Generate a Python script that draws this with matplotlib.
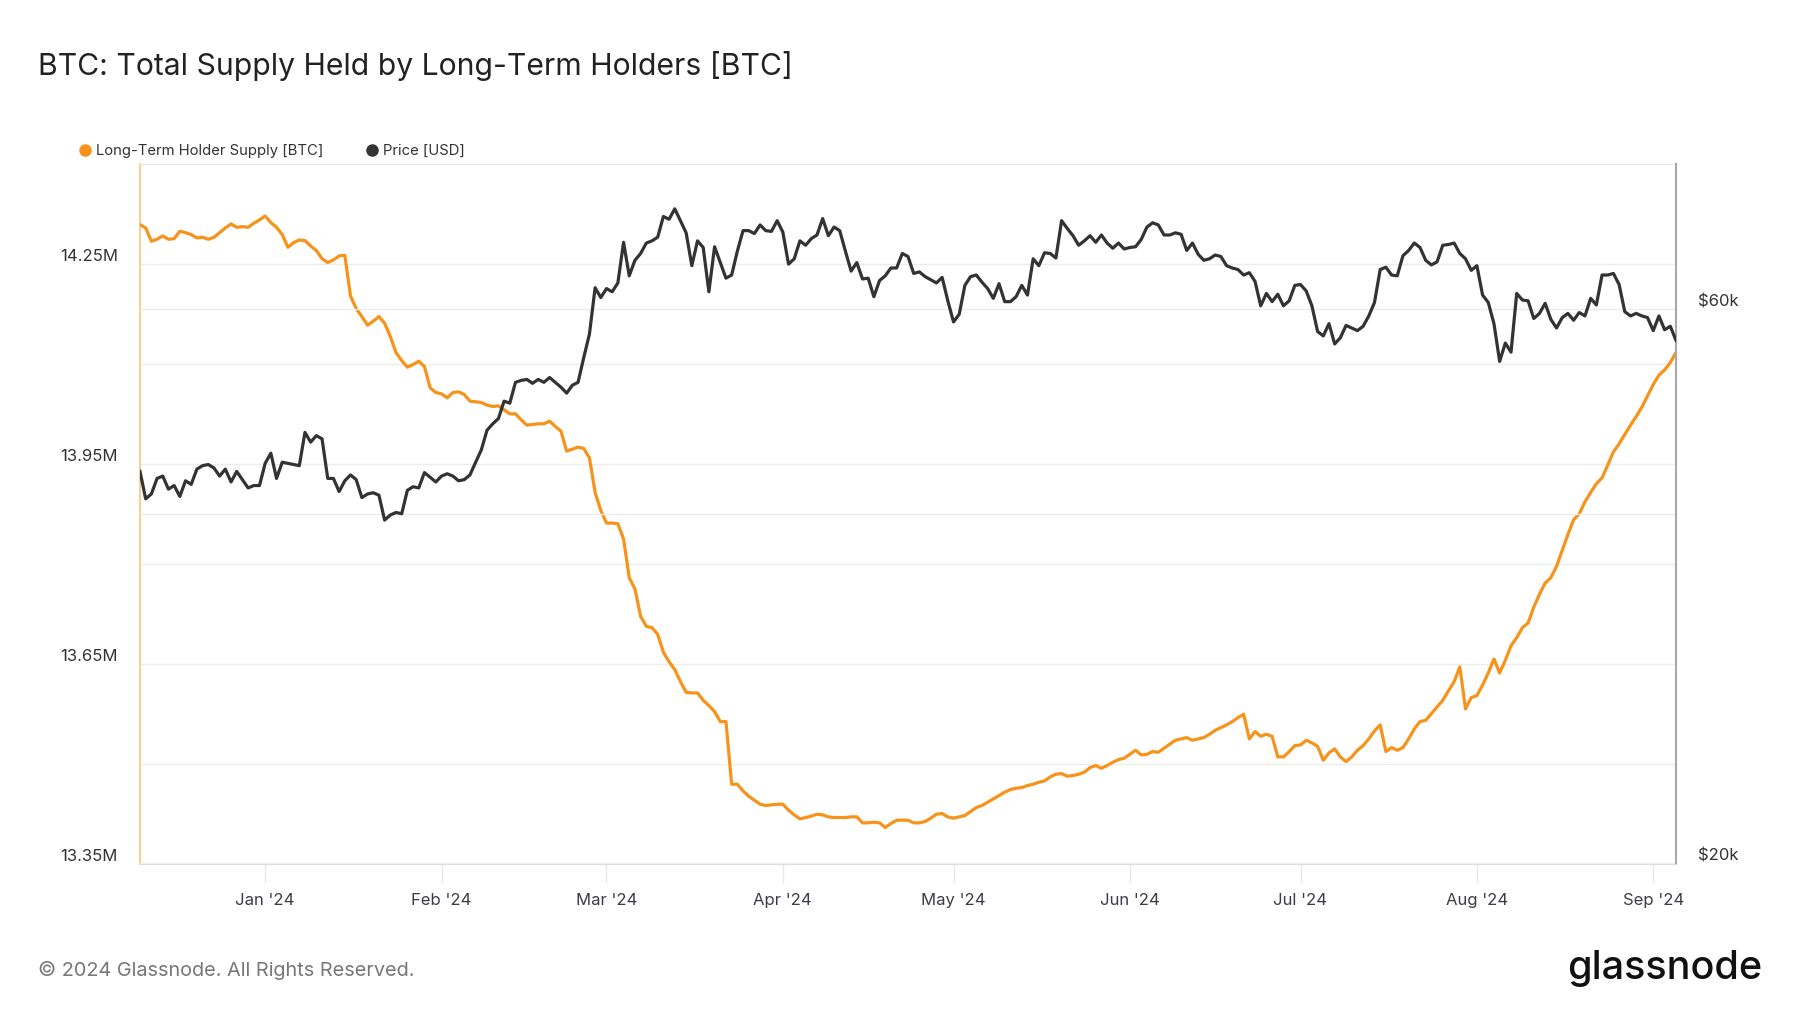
import matplotlib
matplotlib.use("Agg")
import matplotlib.pyplot as plt
import pandas as pd
from matplotlib.lines import Line2D
from matplotlib.ticker import NullLocator

plt.rcParams['font.family'] = ['Inter', 'DejaVu Sans']

# daily values, 2023-12-10 .. 2024-09-05
start_date = '2023-12-10'
end_date = '2024-09-05'

# Long-term holder supply, millions of BTC
lth_supply_m = [
    # Dec 10-31
    14.309, 14.304, 14.284, 14.287, 14.292, 14.287, 14.288, 14.299, 14.297, 14.294, 14.289,
    14.290, 14.287, 14.290, 14.297, 14.304, 14.310, 14.305, 14.306, 14.305, 14.311, 14.316,
    # Jan
    14.322, 14.312, 14.305, 14.294, 14.275, 14.282, 14.286, 14.285, 14.277, 14.270, 14.258,
    14.252, 14.256, 14.262, 14.263, 14.202, 14.183, 14.171, 14.158, 14.164, 14.171, 14.161,
    14.141, 14.117, 14.105, 14.095, 14.099, 14.104, 14.096, 14.064, 14.057,
    # Feb
    14.055, 14.049, 14.057, 14.058, 14.054, 14.044, 14.043, 14.042, 14.038, 14.036, 14.037,
    14.031, 14.025, 14.025, 14.016, 14.008, 14.009, 14.010, 14.010, 14.014, 14.006, 13.999,
    13.969, 13.972, 13.975, 13.973, 13.959, 13.907, 13.880,
    # Mar
    13.861, 13.861, 13.860, 13.837, 13.779, 13.762, 13.721, 13.706, 13.704, 13.694, 13.667,
    13.653, 13.641, 13.623, 13.607, 13.606, 13.606, 13.595, 13.587, 13.578, 13.563, 13.563,
    13.469, 13.469, 13.459, 13.451, 13.445, 13.439, 13.437, 13.438, 13.439,
    # Apr
    13.439, 13.430, 13.423, 13.417, 13.419, 13.421, 13.424, 13.423, 13.420, 13.419, 13.419,
    13.419, 13.420, 13.420, 13.411, 13.411, 13.412, 13.411, 13.404, 13.410, 13.415, 13.415,
    13.415, 13.411, 13.411, 13.413, 13.418, 13.424, 13.425, 13.420,
    # May
    13.418, 13.420, 13.422, 13.428, 13.434, 13.437, 13.442, 13.447, 13.452, 13.457, 13.461,
    13.463, 13.464, 13.467, 13.469, 13.472, 13.474, 13.480, 13.484, 13.485, 13.481, 13.482,
    13.484, 13.487, 13.494, 13.497, 13.493, 13.497, 13.502, 13.506, 13.508,
    # Jun
    13.514, 13.520, 13.513, 13.514, 13.518, 13.517, 13.523, 13.529, 13.535, 13.537, 13.539,
    13.535, 13.537, 13.539, 13.544, 13.550, 13.554, 13.558, 13.563, 13.569, 13.574, 13.537,
    13.548, 13.541, 13.544, 13.541, 13.510, 13.510, 13.518, 13.527,
    # Jul
    13.528, 13.535, 13.531, 13.526, 13.505, 13.516, 13.522, 13.510, 13.503, 13.510, 13.520,
    13.527, 13.537, 13.549, 13.558, 13.518, 13.524, 13.520, 13.524, 13.537, 13.552, 13.563,
    13.565, 13.575, 13.585, 13.595, 13.609, 13.623, 13.645, 13.582, 13.599,
    # Aug
    13.602, 13.618, 13.636, 13.657, 13.636, 13.655, 13.677, 13.689, 13.704, 13.711, 13.735,
    13.754, 13.771, 13.779, 13.796, 13.820, 13.844, 13.866, 13.875, 13.893, 13.907, 13.920,
    13.929, 13.948, 13.968, 13.980, 13.994, 14.008, 14.021, 14.035, 14.052,
    # Sep 1-5
    14.069, 14.083, 14.091, 14.102, 14.117,
]

# BTC price, thousands of USD
price_k = [
    # Dec 10-31
    43.5, 41.2, 41.6, 42.9, 43.1, 42.0, 42.3, 41.4, 42.7, 42.4, 43.7,
    44.0, 44.1, 43.8, 43.1, 43.7, 42.6, 43.5, 42.8, 42.1, 42.3, 42.3,
    # Jan
    44.2, 45.1, 42.9, 44.3, 44.2, 44.1, 44.0, 47.0, 46.1, 46.7, 46.4,
    42.9, 42.9, 41.8, 42.7, 43.2, 42.8, 41.3, 41.6, 41.7, 41.5,
    39.5, 39.9, 40.1, 40.0, 41.9, 42.2, 42.1, 43.4, 43.0, 42.6,
    # Feb
    43.1, 43.3, 43.1, 42.7, 42.8, 43.2, 44.3, 45.4, 47.2, 47.8, 48.3,
    50.0, 49.8, 51.9, 52.1, 52.2, 51.8, 52.2, 51.9, 52.4, 51.9, 51.4,
    50.8, 51.6, 51.9, 54.5, 57.1, 62.6, 61.4,
    # Mar
    62.5, 62.1, 63.2, 68.5, 64.1, 66.1, 67.0, 68.4, 68.7, 69.2, 72.1,
    71.7, 73.2, 71.5, 69.8, 65.4, 68.7, 67.8, 62.1, 67.9, 65.8, 63.8,
    64.2, 67.3, 70.1, 70.1, 69.7, 70.9, 70.1, 70.0, 71.5,
    # Apr
    69.9, 65.6, 66.3, 68.7, 68.1, 69.0, 69.5, 71.8, 69.4, 70.6, 70.1,
    67.3, 64.7, 65.8, 63.7, 63.8, 61.5, 63.5, 64.1, 65.1, 65.1, 67.0,
    66.6, 64.4, 64.6, 64.0, 63.6, 63.2, 63.9, 61.0,
    # May
    58.5, 59.4, 62.9, 64.0, 64.2, 63.3, 62.5, 61.3, 63.1, 60.9, 60.9,
    61.5, 62.9, 61.7, 66.3, 65.4, 67.1, 67.0, 66.4, 71.5, 70.4, 69.4,
    68.1, 68.7, 69.4, 68.5, 69.5, 68.4, 67.7, 68.4, 67.6,
    # Jun
    67.8, 67.9, 68.9, 70.6, 71.2, 70.9, 69.5, 69.5, 69.8, 69.6, 67.4,
    68.4, 66.9, 66.1, 66.3, 66.8, 66.6, 65.4, 65.1, 64.9, 64.2, 64.5,
    63.4, 60.4, 61.9, 60.9, 61.8, 60.4, 61.0, 62.9,
    # Jul
    63.0, 62.2, 60.4, 57.4, 56.9, 58.3, 56.0, 56.7, 58.1, 57.8, 57.5,
    58.0, 59.2, 60.8, 64.9, 65.2, 64.2, 64.1, 66.7, 67.4, 68.4, 67.8,
    66.1, 65.5, 65.9, 68.1, 68.2, 68.4, 67.0, 66.3, 64.8,
    # Aug
    65.4, 61.7, 60.8, 58.3, 54.1, 56.1, 55.1, 61.9, 61.1, 61.0, 58.9,
    59.5, 60.7, 58.8, 57.8, 59.0, 59.5, 58.7, 59.6, 59.2, 61.3, 60.5,
    64.2, 64.2, 64.4, 63.0, 59.7, 59.2, 59.5, 59.2, 59.0,
    # Sep 1-5
    57.5, 59.2, 57.6, 58.0, 56.4,
]

supply_ticks = [13.35, 13.50, 13.65, 13.80, 13.95, 14.10, 14.25]
supply_labels = ['13.35M', '', '13.65M', '', '13.95M', '', '14.25M']
price_ticks = [20, 40, 60]
price_labels = ['$20k', '', '$60k']
month_starts = pd.date_range('2024-01-01', '2024-09-01', freq='MS')
month_labels = [d.strftime("%b '%y") for d in month_starts]

dates = pd.date_range(start_date, end_date, freq='D')

ORANGE = '#f7931a'
DARK = '#333333'
GRID = '#ececec'

fig = plt.figure(figsize=(18, 10.13), dpi=100, facecolor='w')
ax = fig.add_axes([140 / 1800, 1 - 863.5 / 1013, 1536 / 1800, 699.5 / 1013])
ax2 = ax.twinx()

ax.plot(dates, lth_supply_m, color=ORANGE, lw=2.3, solid_joinstyle='round', zorder=3)
ax2.plot(dates, price_k, color=DARK, lw=2.3, solid_joinstyle='round', zorder=3)

ax.set_xlim(dates[0], dates[-1])
ax.set_ylim(13.35, 14.40)
ax2.set_yscale('log')
ax2.set_ylim(20, 80)

# left axis
ax.set_yticks(supply_ticks, labels=supply_labels, va='bottom')
ax.tick_params(axis='y', length=0, pad=16, labelsize=12, labelcolor='#333333')
ax.yaxis.grid(True, color=GRID, lw=1, zorder=0)
ax.set_axisbelow(True)

# right axis (log)
ax2.set_yticks(price_ticks, labels=price_labels, va='bottom')
ax2.yaxis.set_minor_locator(NullLocator())
ax2.tick_params(axis='y', which='both', length=0, pad=16, labelsize=12, labelcolor='#333333')
ax2.yaxis.grid(True, color=GRID, lw=1, zorder=0)
ax2.set_axisbelow(True)

# x axis
ax.set_xticks(month_starts, labels=month_labels)
ax.tick_params(axis='x', length=14, width=1, color='#e8e8e8', pad=7,
               labelsize=12, labelcolor='#3c3c46')

for s in ['top', 'bottom', 'left', 'right']:
    ax2.spines[s].set_visible(False)
ax.spines['right'].set_visible(False)
ax.spines['top'].set_color('#e6e6e6')
ax.spines['bottom'].set_color('#dddddd')
ax.spines['left'].set_color('#fcc98c')
ax.spines['left'].set_linewidth(1.3)
ax2.spines['right'].set_visible(True)
ax2.spines['right'].set_color('#a8a8a8')
ax2.spines['right'].set_linewidth(1.5)

# title, legend, footer
fig.text(38 / 1800, 1 - 66 / 1013, 'BTC: Total Supply Held by Long-Term Holders [BTC]',
         fontsize=21.7, color='#222222', va='center')

handles = [Line2D([], [], marker='o', ls='', color=ORANGE, markersize=8),
           Line2D([], [], marker='o', ls='', color=DARK, markersize=8)]
fig.legend(handles, ['Long-Term Holder Supply [BTC]', 'Price [USD]'],
           loc='center left', bbox_to_anchor=(80 / 1800, 1 - 151 / 1013), ncol=2,
           frameon=False, fontsize=10.7, labelcolor='#333333', handlelength=0.7,
           handletextpad=0.4, columnspacing=2.9, borderpad=0, borderaxespad=0)

fig.text(38 / 1800, 1 - 970 / 1013, '\u00a9 2024 Glassnode. All Rights Reserved.',
         fontsize=14.3, color='#777777', va='center')
fig.text(1762 / 1800, 1 - 968 / 1013, 'glassnode', fontsize=28.5, fontweight='medium',
         color='#111111', ha='right', va='center')

fig.savefig('out.png', dpi=100, facecolor='w')
